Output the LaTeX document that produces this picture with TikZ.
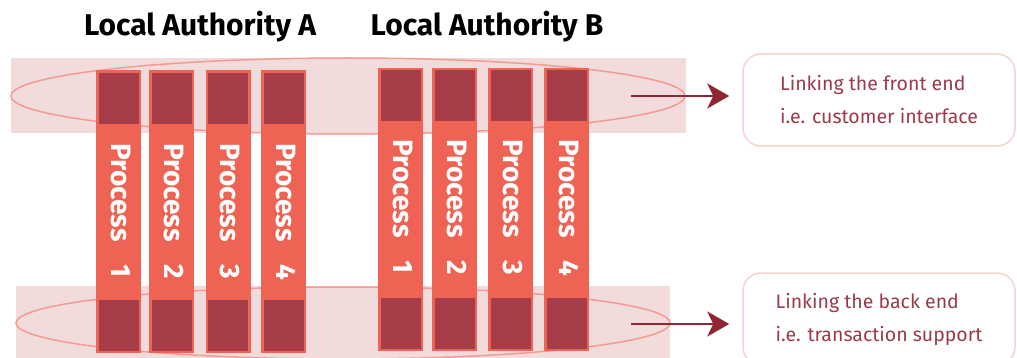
\documentclass[tikz,border=0pt]{standalone}
\usepackage{fontspec}
\setmainfont{Fira Sans}
\usetikzlibrary{arrows.meta,positioning}
\definecolor{bandpink}{HTML}{F2DCDB}
\definecolor{ringpink}{HTML}{F29B94}
\definecolor{procred}{HTML}{EE6353}
\definecolor{capred}{HTML}{A73D48}
\definecolor{linkred}{HTML}{8E2633}
\definecolor{boxline}{HTML}{F4D3D1}
\definecolor{boxtext}{HTML}{9B3A4A}

\begin{document}
\begin{tikzpicture}[x=1pt,y=-1pt,
  band/.style={fill=bandpink},
  ring/.style={draw=ringpink,line width=1.5pt},
  proc/.style={fill=procred,minimum width=45pt,minimum height=282pt,inner sep=0pt},
  capbox/.style={fill=capred,minimum width=40pt,minimum height=51pt,inner sep=0pt},
  proctext/.style={text=white,font=\bfseries\fontsize{28}{28}\selectfont,rotate=-90,anchor=west,inner sep=0pt},
  infobox/.style={draw=boxline,line width=1.5pt,rounded corners=18pt,text=boxtext,
    font=\fontsize{19.5}{33}\selectfont,align=left,minimum width=272pt,minimum height=92pt},
  link/.style={-{Stealth[length=22pt,width=25pt,inset=6pt]},linkred,line width=2.5pt,shorten >=13pt},
  title/.style={font=\bfseries\fontsize{30}{30}\selectfont,anchor=base}]
  \useasboundingbox (0,0) rectangle (1017,358);

  % shaded bands with their rings
  \fill[band] (11,58) rectangle (686,133);
  \fill[band] (16,286) rectangle (670,358);
  \draw[ring] (348,96) ellipse [x radius=337pt, y radius=38pt];
  \draw[ring] (343,323) ellipse [x radius=327pt, y radius=36pt];

  \node[title] (la) at (200,36) {Local Authority A};
  \node[title] (lb) at (487,36) {Local Authority B};

  % process columns
  \foreach \x/\n in {118.5/1,171.5/2,228/3,283.5/4} {
    \node[proc] (a\n) at (\x,211.5) {};
    \node[capbox,anchor=north] (a\n top) at ([yshift=-3pt]a\n.north) {};
    \node[capbox,anchor=south] (a\n bot) at ([yshift=2pt]a\n.south) {};
    \node[proctext] (a\n txt) at ([xshift=2pt,yshift=-73pt]a\n.north) {Process\hspace{23pt}\n};
  }
  \foreach \x/\n in {400.5/1,454.5/2,510.5/3,566.5/4} {
    \node[proc] (b\n) at (\x,209.5) {};
    \node[capbox,anchor=north] (b\n top) at ([yshift=-2pt]b\n.north) {};
    \node[capbox,anchor=south] (b\n bot) at ([yshift=2pt]b\n.south) {};
    \node[proctext] (b\n txt) at ([xshift=2pt,yshift=-71pt]b\n.north) {Process\hspace{23pt}\n};
  }

  % what each band links
  \node[infobox] (front) at (879,100) {Linking the front end\\i.e. customer interface};
  \node[infobox] (back) at (879,319) {Linking the back end\\i.e. transaction support};
  \coordinate (fe) at (631,96);
  \coordinate (be) at (631,324);
  \draw[link] (fe) -- (front.west |- fe);
  \draw[link] (be) -- (back.west |- be);
\end{tikzpicture}
\end{document}
